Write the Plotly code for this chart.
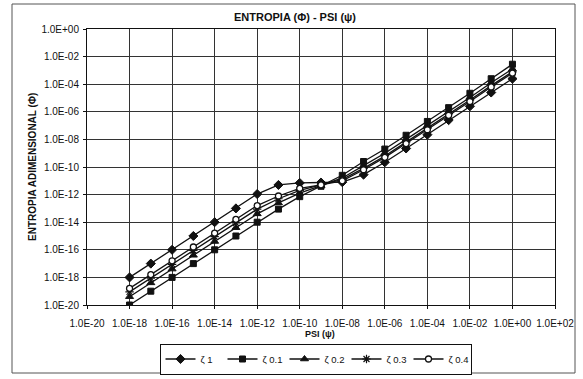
import plotly.graph_objects as go

# PSI (ψ) sample points, one per decade
psi = [1.0e-18, 1.0e-17, 1.0e-16, 1.0e-15, 1.0e-14, 1.0e-13, 1.0e-12, 1.0e-11,
       1.0e-10, 1.0e-9, 1.0e-8, 1.0e-7, 1.0e-6, 1.0e-5, 1.0e-4, 1.0e-3,
       1.0e-2, 1.0e-1, 1.0e0]

# Dimensionless entropy (Φ) for each ζ
phi_z1 = [1.0e-18, 1.0e-17, 1.0e-16, 1.0e-15, 1.0e-14, 1.0e-13, 1.1e-12, 5.0e-12,
          7.0e-12, 7.5e-12, 8.0e-12, 2.8e-11, 2.2e-10, 2.2e-9, 2.2e-8, 2.5e-7,
          2.5e-6, 2.5e-5, 2.5e-4]
phi_z01 = [1.0e-20, 1.0e-19, 1.0e-18, 1.0e-17, 1.0e-16, 1.0e-15, 1.0e-14, 8.9e-14,
           7.1e-13, 4.0e-12, 2.5e-11, 2.5e-10, 2.0e-9, 2.0e-8, 2.0e-7, 2.0e-6,
           2.2e-5, 2.5e-4, 2.8e-3]
phi_z02 = [4.0e-20, 4.0e-19, 4.0e-18, 4.0e-17, 4.0e-16, 4.0e-15, 4.0e-14, 2.5e-13,
           1.26e-12, 4.5e-12, 1.6e-11, 1.26e-10, 1.0e-9, 1.0e-8, 1.0e-7, 1.0e-6,
           1.1e-5, 1.26e-4, 1.26e-3]
phi_z03 = [8.9e-20, 8.9e-19, 8.9e-18, 8.9e-17, 8.9e-16, 8.9e-15, 8.9e-14, 5.0e-13,
           2.0e-12, 5.0e-12, 1.26e-11, 7.9e-11, 6.3e-10, 6.3e-9, 6.3e-8, 7.1e-7,
           7.1e-6, 7.9e-5, 7.9e-4]
phi_z04 = [1.6e-19, 1.6e-18, 1.6e-17, 1.6e-16, 1.6e-15, 1.6e-14, 1.6e-13, 7.9e-13,
           2.8e-12, 5.0e-12, 1.0e-11, 6.3e-11, 5.0e-10, 5.0e-9, 5.0e-8, 5.6e-7,
           5.6e-6, 6.3e-5, 6.3e-4]

series_names = ["ζ 1", "ζ 0.1", "ζ 0.2", "ζ 0.3", "ζ 0.4"]

x_tickvals = [1e-20, 1e-18, 1e-16, 1e-14, 1e-12, 1e-10, 1e-8, 1e-6, 1e-4, 1e-2, 1e0, 1e2]
x_ticktext = ["1.0E-20", "1.0E-18", "1.0E-16", "1.0E-14", "1.0E-12", "1.0E-10",
              "1.0E-08", "1.0E-06", "1.0E-04", "1.0E-02", "1.0E+00", "1.0E+02"]
y_tickvals = [1e-20, 1e-18, 1e-16, 1e-14, 1e-12, 1e-10, 1e-8, 1e-6, 1e-4, 1e-2, 1e0]
y_ticktext = ["1.0E-20", "1.0E-18", "1.0E-16", "1.0E-14", "1.0E-12", "1.0E-10",
              "1.0E-08", "1.0E-06", "1.0E-04", "1.0E-02", "1.0E+00"]

FONT = "Liberation Sans, Arial, sans-serif"
INK = "#111111"

styles = [
    dict(symbol="diamond", size=7, color=INK, line=dict(color=INK, width=1)),
    dict(symbol="square", size=6, color=INK, line=dict(color=INK, width=1)),
    dict(symbol="triangle-up", size=7, color=INK, line=dict(color=INK, width=1)),
    dict(symbol="asterisk-open", size=7, color=INK, line=dict(color=INK, width=1.2)),
    dict(symbol="circle", size=6, color="white", line=dict(color=INK, width=1.3)),
]

fig = go.Figure()
for name, ys, mk in zip(series_names, [phi_z1, phi_z01, phi_z02, phi_z03, phi_z04], styles):
    fig.add_trace(go.Scatter(
        x=psi, y=ys, name=name, mode="lines+markers",
        line=dict(color=INK, width=1.3), marker=mk,
    ))

L, R, T, B = 87, 28, 29, 74
W, H = 583, 379
pw, ph = W - L - R, H - T - B

def px_x(px):
    return (px - L) / pw

def px_y(py):
    return (H - B - py) / ph

axis_common = dict(
    type="log", showgrid=True, gridcolor="#333333", gridwidth=1,
    showline=True, linecolor=INK, linewidth=1, mirror=True,
    ticks="outside", ticklen=3, tickcolor=INK, zeroline=False, automargin=False,
    tickfont=dict(family=FONT, size=10, color=INK),
)

fig.update_layout(
    width=W, height=H, autosize=False,
    margin=dict(l=L, r=R, t=T, b=B, pad=0),
    paper_bgcolor="white", plot_bgcolor="white",
    font=dict(family=FONT, color=INK),
    title=dict(text="<b>ENTROPIA (Φ) - PSI (ψ)</b>", x=295 / W, xref="container",
               xanchor="center", y=1 - 17 / H, yref="container", yanchor="middle",
               font=dict(family=FONT, size=11, color=INK), automargin=False),
    xaxis=dict(axis_common, range=[-20, 2], tickvals=x_tickvals, ticktext=x_ticktext,
               ticklabelstandoff=6),
    yaxis=dict(axis_common, range=[-20, 0], tickvals=y_tickvals, ticktext=y_ticktext,
               ticklabelstandoff=2),
    showlegend=True,
    legend=dict(orientation="h", x=315.5 / W, xref="container", xanchor="center",
                y=1 - 359 / H, yref="container", yanchor="middle",
                bordercolor=INK, borderwidth=1, bgcolor="white",
                font=dict(family=FONT, size=9.5, color=INK),
                itemwidth=30, entrywidth=17, entrywidthmode="pixels",
                tracegroupgap=0, traceorder="normal"),
    annotations=[
        dict(text="<b>ENTROPIA ADIMENSIONAL (Φ)</b>", textangle=-90, xref="paper", yref="paper",
             x=px_x(32), y=px_y(167), xanchor="center", yanchor="middle", showarrow=False,
             font=dict(family=FONT, size=10, color=INK)),
        dict(text="<b>PSI (ψ)</b>", xref="paper", yref="paper",
             x=px_x(320), y=px_y(334), xanchor="center", yanchor="middle", showarrow=False,
             font=dict(family=FONT, size=9, color=INK)),
    ],
    shapes=[
        dict(type="rect", xref="paper", yref="paper",
             x0=px_x(12), x1=px_x(575), y0=px_y(373), y1=px_y(4),
             line=dict(color="#555555", width=1), fillcolor="rgba(0,0,0,0)", layer="below"),
    ],
)

fig.write_html("out.html")
